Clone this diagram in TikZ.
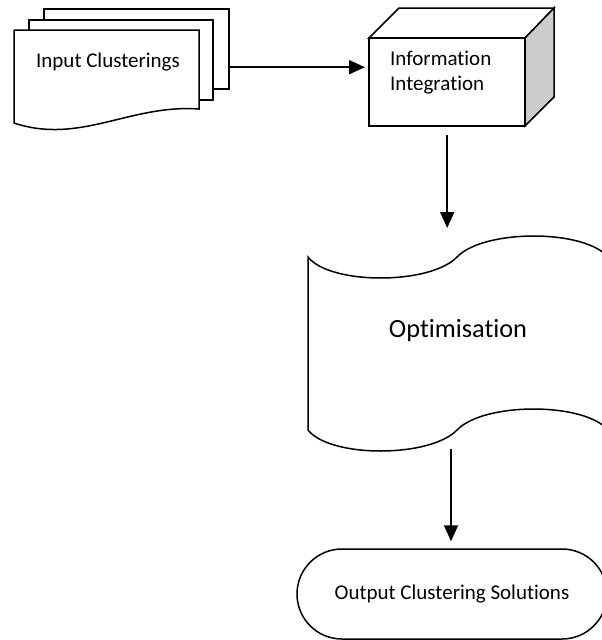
\documentclass[tikz,border=0pt]{standalone}
\usepackage{fontspec}
\setmainfont{Carlito}[Ligatures=NoCommon]
\usetikzlibrary{arrows.meta}

\tikzset{
  outline/.style={draw=black, line width=1.5pt, line join=miter},
  sheet/.style={outline, fill=white},
  label/.style={font=\fontsize{21}{25}\selectfont, inner sep=0pt},
  bigLabel/.style={font=\fontsize{26.3}{30}\selectfont, inner sep=0pt},
  area/.style={inner sep=0pt, draw=none},
  flow/.style={line width=1.8pt, -{Triangle[width=14pt,length=16pt]}}
}

\begin{document}
\begin{tikzpicture}[x=1pt, y=-1pt]
  \clip (0,0) rectangle (602,640);
  \fill[white] (0,0) rectangle (602,640);

  % stack of documents
  \node[area, minimum width=185pt, minimum height=80pt, anchor=north west] (back) at (44,9) {};
  \draw[sheet] (44,9) rectangle (229,89);
  \draw[sheet] (29,20) rectangle (213,100);
  \draw[sheet] (14,30) -- (199,30) -- (199,109)
     .. controls (130,104) and (80,145) .. (14,123) -- cycle;
  \node[label] (inp) at (108,62) {Input Clusterings};

  % box drawn as a cube
  \node[area, minimum width=156pt, minimum height=88pt, anchor=north west] (cube) at (369,38) {};
  \draw[sheet] (369,38) -- (399,8) -- (554,8) -- (525,38) -- cycle;
  \draw[outline, fill=black!20] (525,38) -- (554,8) -- (554,97) -- (525,126) -- cycle;
  \draw[sheet] (369,38) rectangle (525,126);
  \node[label, align=left, anchor=west] (info) at (390,73) {Information\\Integration};

  % punched tape
  \node[area, minimum width=300pt, minimum height=173pt, anchor=north west] (opt) at (308,257) {};
  \draw[sheet] (308,257)
     .. controls (330,285) and (430,285) .. (457,257)
     .. controls (484,229) and (584,229) .. (608,257)
     -- (608,430)
     .. controls (584,402) and (484,402) .. (457,430)
     .. controls (430,458) and (330,458) .. (308,430) -- cycle;
  \node[bigLabel] (optText) at (458,331) {Optimisation};

  % terminal
  \node[outline, fill=white, rounded corners=45pt, minimum width=310pt, minimum height=90pt,
        font=\fontsize{21}{25}\selectfont] (out) at (452,594) {Output Clustering Solutions};

  % connectors
  \draw[flow, shorten >=4pt] ([yshift=-18pt]back.east) -- ([yshift=-18pt]back.east -| cube.west);
  \draw[flow, shorten <=9pt, shorten >=29pt] (cube.south) -- (cube.south |- opt.north);
  \draw[flow, shorten <=19pt, shorten >=7pt] ([xshift=-1pt]out.north |- opt.south) -- ([xshift=-1pt]out.north);
\end{tikzpicture}
\end{document}
